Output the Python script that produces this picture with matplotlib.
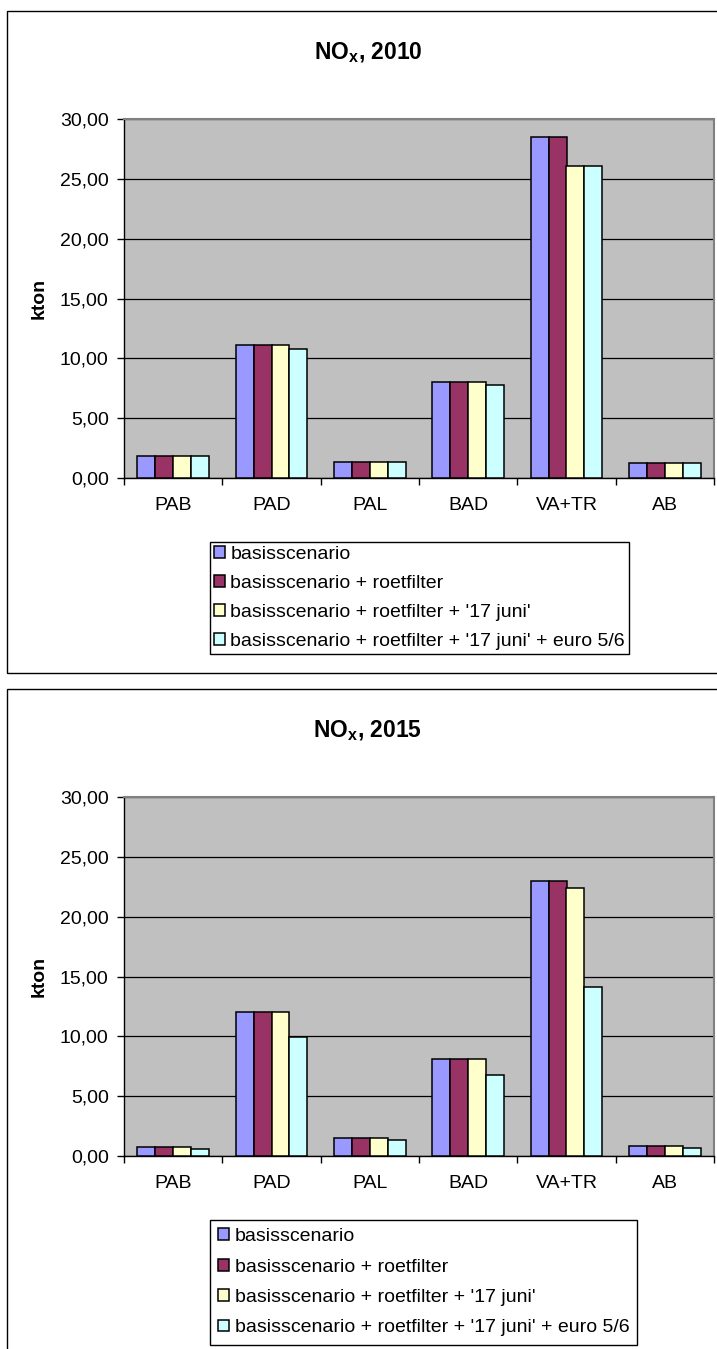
import matplotlib.pyplot as plt
from matplotlib.patches import Rectangle
from matplotlib.ticker import FixedLocator, NullFormatter
import numpy as np

plt.rcParams['font.family'] = ['Liberation Sans', 'DejaVu Sans']
plt.rcParams['mathtext.fontset'] = 'custom'
plt.rcParams['mathtext.bf'] = 'Liberation Sans:bold'
plt.rcParams['mathtext.rm'] = 'Liberation Sans'

categories = ['PAB', 'PAD', 'PAL', 'BAD', 'VA+TR', 'AB']
series_names = ['basisscenario',
                'basisscenario + roetfilter',
                "basisscenario + roetfilter + '17 juni'",
                "basisscenario + roetfilter + '17 juni' + euro 5/6"]
colors = ['#9999FF', '#993366', '#FFFFCC', '#CCFFFF']

# kton NOx per sector, 2010
basis_2010 = [1.85, 11.1, 1.35, 8.0, 28.5, 1.25]
roet_2010 = [1.85, 11.1, 1.35, 8.0, 28.5, 1.25]
juni_2010 = [1.85, 11.1, 1.35, 8.0, 26.1, 1.25]
euro_2010 = [1.85, 10.75, 1.35, 7.75, 26.1, 1.25]

# kton NOx per sector, 2015
basis_2015 = [0.75, 12.0, 1.5, 8.1, 23.0, 0.8]
roet_2015 = [0.75, 12.0, 1.5, 8.1, 23.0, 0.8]
juni_2015 = [0.75, 12.0, 1.5, 8.1, 22.4, 0.8]
euro_2015 = [0.6, 9.95, 1.35, 6.75, 14.1, 0.7]

y_ticks = [0, 5, 10, 15, 20, 25, 30]

W, H = 717, 1349
FS = 14
fig = plt.figure(figsize=(W / 100, H / 100), dpi=100)


def px_rect(left, top, right, bottom):
    # pixel box (origin top-left) -> figure fraction [l, b, w, h]
    return [left / W, 1 - bottom / H, (right - left) / W, (bottom - top) / H]


def draw_panel(y0, title, data, legend_h, legend_space, legend_pad):
    # outer chart border
    l, b, w, h = px_rect(7, y0, 729, y0 + 662 + legend_h)
    fig.patches.append(Rectangle((l, b), w, h, transform=fig.transFigure,
                                 fill=False, edgecolor='black', linewidth=1.0))

    ax = fig.add_axes(px_rect(124, y0 + 108, 714, y0 + 467))
    ax.set_facecolor('#C0C0C0')
    x = np.arange(len(categories))
    bw = 0.1825
    for i, (vals, c, name) in enumerate(zip(data, colors, series_names)):
        ax.bar(x + (i - 1.5) * bw, vals, width=bw, color=c, edgecolor='black',
               linewidth=1.1, label=name, zorder=3)

    ax.set_xlim(-0.5, len(categories) - 0.5)
    ax.set_ylim(0, 30)
    ax.set_yticks(y_ticks)
    ax.set_yticklabels([f'{v:.2f}'.replace('.', ',') for v in y_ticks])
    ax.yaxis.grid(True, color='black', linewidth=0.9, zorder=1)
    ax.set_axisbelow(True)

    # category boundaries carry the tick marks, centres carry the labels
    ax.xaxis.set_major_locator(FixedLocator(np.arange(-0.5, len(categories), 1.0)))
    ax.xaxis.set_major_formatter(NullFormatter())
    ax.xaxis.set_minor_locator(FixedLocator(x))
    ax.set_xticklabels(categories, minor=True)
    ax.tick_params(axis='x', which='major', length=5, width=1, direction='out')
    ax.tick_params(axis='x', which='minor', length=0, pad=14, labelsize=FS)
    ax.tick_params(axis='y', length=5, width=1, direction='out', pad=6,
                   labelsize=FS)

    for side in ('top', 'right'):
        ax.spines[side].set_color('#808080')
        ax.spines[side].set_linewidth(1.5)
    for side in ('left', 'bottom'):
        ax.spines[side].set_color('black')
        ax.spines[side].set_linewidth(1.0)

    ax.set_ylabel('kton', fontsize=FS, fontweight='bold', labelpad=9)

    fig.text(368 / W, 1 - (y0 + 42) / H, title, ha='center', va='center',
             fontsize=16.5, fontweight='bold')

    ax.legend(loc='upper left', bbox_to_anchor=(210 / W, 1 - (y0 + 531) / H),
              bbox_transform=fig.transFigure, borderaxespad=0, fontsize=FS,
              frameon=True, fancybox=False, edgecolor='black', framealpha=1,
              handlelength=0.55, handleheight=0.55, handletextpad=0.3,
              labelspacing=legend_space, borderpad=legend_pad)
    ax.get_legend().get_frame().set_linewidth(1.0)


draw_panel(11, r'$\mathbf{NO_x}$, 2010',
           [basis_2010, roet_2010, juni_2010, euro_2010], 0, 0.62, 0.2)
draw_panel(689, r'$\mathbf{NO_x}$, 2015',
           [basis_2015, roet_2015, juni_2015, euro_2015], 40, 0.69, 0.42)

fig.savefig('out.png', dpi=100)
